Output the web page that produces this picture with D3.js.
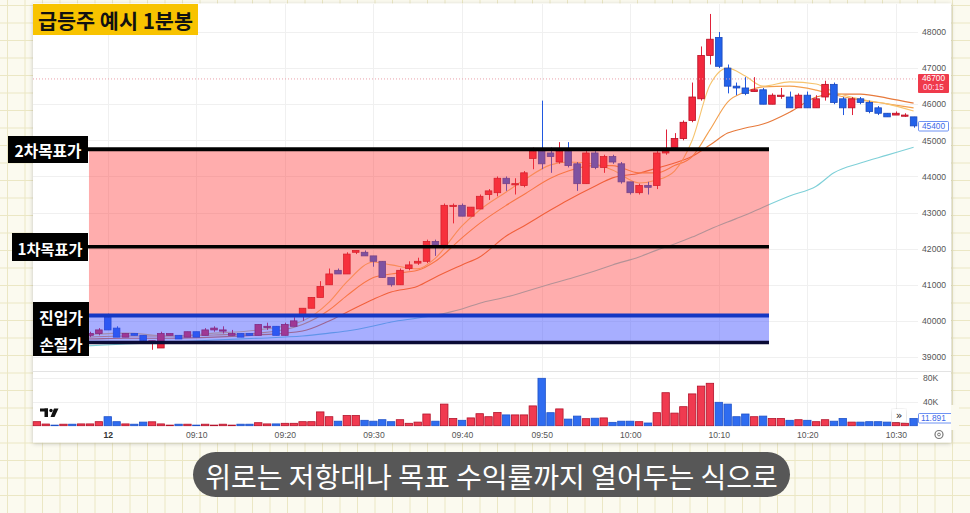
<!DOCTYPE html>
<head>
  <meta charset="utf-8">
  <script src="https://cdn.jsdelivr.net/npm/d3@7/dist/d3.min.js"></script>
  <style>
    body { margin:0; background:#fbfaef; font-family:"Noto Sans CJK KR","Noto Sans",sans-serif; }
    svg { display:block; }
    .ax text { font-family:"Liberation Sans",Arial,sans-serif; font-size:8.6px; fill:#555; }
  </style>
</head>
<body>
<script>
// 1분봉 OHLC + 거래량(K)
var opens  = [39500,39550,39600,39550,39600,39550,39600,39650,40100,39800,
              39550,39650,39600,39400,39250,39600,39600,39550,39700,39600,
              39750,39750,39600,39650,39650,39600,39850,39850,39600,39850,
              40150,40350,40650,41000,41400,41300,41900,41900,41800,41650,
              41200,41000,41450,41600,41650,42200,42100,43200,43200,42900,
              43100,43500,43550,43950,43800,43750,44500,44700,44650,44400,
              44700,44350,43800,44650,44250,44550,44350,43850,43550,43750,
              43750,44650,44800,45050,45550,46150,47350,47850,47000,46500,
              46450,46350,46400,46000,46250,46200,45900,46250,45900,46200,
              46550,46150,45900,46150,46050,45900,45750,45700,45700,45650];
var highs  = [39600,39600,39650,39650,39600,39650,39700,39800,40200,39850,
              39650,39650,39600,39450,39700,39650,39600,39700,39700,39800,
              39850,39850,39750,39650,39650,39900,39950,39850,39950,40100,
              40350,40650,41100,41450,41450,41900,41950,41950,41800,41650,
              41200,41450,41650,41750,42250,42250,43250,43250,43250,43150,
              43500,43650,44000,44000,43950,44150,44800,46100,44800,44950,
              44950,44400,44700,44700,44600,44600,44400,43850,43800,43850,
              44700,45300,45200,45550,46600,47600,48500,48000,47100,46600,
              46750,46750,46450,46300,46450,46350,46300,46350,46250,46650,
              46600,46200,46200,46200,46100,45950,45750,45800,45750,45650];
var lows   = [39450,39500,39550,39550,39500,39550,39550,39600,39750,39550,
              39550,39600,39450,39200,39250,39600,39500,39550,39550,39600,
              39700,39650,39600,39550,39600,39600,39750,39600,39600,39850,
              40000,40350,40650,41000,41300,41300,41850,41800,41500,41200,
              40950,41000,41400,41550,41600,41800,42100,42700,42900,42900,
              43100,43350,43450,43600,43500,43700,44200,44200,44100,44350,
              44250,43600,43800,44200,44100,44350,43800,43500,43500,43500,
              43650,44600,44750,45000,45500,46100,47100,47000,46300,46250,
              46250,46350,46000,46000,46150,45900,45900,45900,45900,46100,
              46000,45700,45700,46000,45750,45700,45650,45700,45650,45350];
var closes = [39550,39600,39550,39600,39550,39600,39650,39750,39750,39550,
              39650,39600,39450,39450,39650,39650,39500,39700,39550,39750,
              39800,39750,39650,39550,39600,39900,39850,39600,39900,40000,
              40350,40650,40950,41300,41300,41850,41950,41800,41650,41200,
              41000,41400,41550,41650,42200,42100,43200,43200,42900,43150,
              43450,43600,43950,43800,43800,44100,44700,44350,44550,44700,
              44300,43800,44650,44250,44550,44400,43850,43550,43750,43700,
              44650,44700,45050,45500,46200,47350,47800,47050,46500,46450,
              46300,46400,46000,46250,46250,45900,46250,45900,46150,46550,
              46050,45900,46150,46050,45800,45750,45650,45750,45700,45400];
var volumes = [6.7,2.8,1.0,2.5,2.5,3.0,3.0,6.7,15,6.7,
               3.0,2.5,6.0,6.5,3.0,1.0,2.5,2.5,1.0,2.5,
               1.0,2.5,1.0,2.5,2.5,5.0,3.0,3.0,4.0,4.0,
               6.7,6.7,23,15,7.5,17,17,9,7.5,10,
               6.7,10,4,6,19.5,7.5,36,12,9,13,
               20,15,22,18,18,18,33,79,21.7,28,
               11,16,11.7,12.5,13,5.6,7.5,7.5,6.7,4.5,
               21.7,55,21,31.7,53,66,70.7,39,36,15,
               19.5,15,16,12,12,9,10,9,6.7,10,
               7.5,12,6,6,6.7,6.7,6,5,4,11.891];

// 이동평균선
var maIdx = [0,5,10,15,20,25,30,33,35,38,40,43,45,48,50,53,55,58,60,63,65,68,70,72,74,76,78,80,82,85,88,90,93,96,99];
var ma5  = [39550,39610,39660,39580,39660,39750,40000,40520,41080,41630,41550,41440,41740,42630,43070,43570,43900,44320,44400,44340,44180,43820,43900,44150,45000,46530,47000,46780,46500,46620,46560,46340,46140,46010,45810];
var ma10 = [39520,39550,39580,39580,39610,39660,39900,40300,40700,41200,41300,41400,41650,42300,42700,43200,43500,43950,44150,44300,44300,44100,44100,44300,44550,45290,46060,46340,46480,46500,46390,46260,46120,46010,45900];
var ma20 = [39500,39500,39520,39520,39550,39610,39720,40000,40240,40600,40800,40960,41210,41550,41770,42350,42630,43070,43350,43730,43960,44090,44230,44370,44560,44870,45200,45340,45450,45780,46200,46280,46280,46170,46030];
var ma60 = [39220,39300,39360,39410,39470,39520,39580,39660,39720,39860,39970,40080,40160,40330,40490,40660,40800,41020,41160,41380,41550,41770,41960,42130,42320,42540,42740,42930,43150,43460,43730,44100,44370,44590,44810];

var tickIdx = [8,18,28,38,48,57,67,77,87,97];
var tickLabels = ["12","09:10","09:20","09:30","09:40","09:50","10:00","10:10","10:20","10:30"];
var priceTicks = [39000,40000,41000,42000,43000,44000,45000,46000,47000,48000];
var volTicks = [40,80];

var levels = [44750,42050,40150,39400];
var levelNames = ["2차목표가","1차목표가","진입가","손절가"];
var lastPrice = 45400, markPrice = 46700;

var width = 970, height = 513;
var svg = d3.select("body").append("svg").attr("width", width).attr("height", height);
var defs = svg.append("defs");
var f = defs.append("filter").attr("id","sh").attr("x","-5%").attr("y","-5%").attr("width","110%").attr("height","110%");
f.append("feDropShadow").attr("dx",0).attr("dy",1).attr("stdDeviation",2).attr("flood-color","#000").attr("flood-opacity",0.22);
defs.append("clipPath").attr("id","cp").append("rect").attr("x",33).attr("y",4).attr("width",885).attr("height",367);

// 모눈 배경
var bg = svg.append("g").attr("stroke","#ebe7c4").attr("stroke-width",1);
d3.range(7.5, width, 17.5).forEach(function(v){ bg.append("line").attr("x1",v).attr("x2",v).attr("y1",0).attr("y2",height); });
d3.range(5.5, height, 17.5).forEach(function(v){ bg.append("line").attr("y1",v).attr("y2",v).attr("x1",0).attr("x2",width); });

svg.append("rect").attr("x",33).attr("y",3.5).attr("width",918).attr("height",439)
  .attr("fill","#fff").attr("filter","url(#sh)");

var x = d3.scaleLinear().domain([0, 99]).range([36.9, 913.6]);
var y = d3.scaleLinear().domain([39000, 48000]).range([357, 32]);
var yv = d3.scaleLinear().domain([0, 80]).range([425.7, 377.7]);

// 그리드
var grid = svg.append("g").attr("stroke","#f0f0f0").attr("stroke-width",1);
priceTicks.forEach(function(p){ grid.append("line").attr("x1",33).attr("x2",918).attr("y1",Math.round(y(p))+0.5).attr("y2",Math.round(y(p))+0.5); });
tickIdx.forEach(function(i){ grid.append("line").attr("x1",Math.round(x(i))+0.5).attr("x2",Math.round(x(i))+0.5).attr("y1",4).attr("y2",426); });
volTicks.forEach(function(v){ grid.append("line").attr("x1",33).attr("x2",918).attr("y1",Math.round(yv(v))+0.5).attr("y2",Math.round(yv(v))+0.5); });
svg.append("line").attr("x1",33).attr("x2",951).attr("y1",371.5).attr("y2",371.5).attr("stroke","#e3e3e3");

var data = opens.map(function(o, i){
  return {i:i, o:o, h:highs[i], l:lows[i], c:closes[i], v:volumes[i], up: closes[i] >= o};
});

// 거래량
svg.append("g").selectAll("rect").data(data).enter().append("rect")
  .attr("x", function(d){ return x(d.i) - 3.7; })
  .attr("width", 7.4)
  .attr("y", function(d){ return yv(d.v); })
  .attr("height", function(d){ return yv(0) - yv(d.v); })
  .attr("fill", function(d){ return d.up ? "#f03a50" : "#2f6cf0"; })
  .attr("stroke", function(d){ return d.up ? "#b3132b" : "#1f52c8"; })
  .attr("stroke-width", 0.8);

var plot = svg.append("g").attr("clip-path","url(#cp)");

// 이동평균
var line = d3.line().x(function(d){ return x(d[0]); }).y(function(d){ return y(d[1]); }).curve(d3.curveMonotoneX);
[[ma60,"#7fd0d8"],[ma20,"#e77a3c"],[ma10,"#f3a04f"],[ma5,"#f6c46e"]].forEach(function(m){
  plot.append("path").datum(maIdx.map(function(i, k){ return [i, m[0][k]]; }))
    .attr("d", line).attr("fill","none").attr("stroke", m[1]).attr("stroke-width",1.1);
});

// 캔들
var cg = plot.selectAll("g.c").data(data).enter().append("g");
cg.append("line")
  .attr("x1", function(d){ return Math.round(x(d.i)) + 0.5; })
  .attr("x2", function(d){ return Math.round(x(d.i)) + 0.5; })
  .attr("y1", function(d){ return y(d.h); })
  .attr("y2", function(d){ return y(d.l); })
  .attr("stroke", function(d){ return d.up ? "#e0223a" : "#2058e0"; });
cg.append("rect")
  .attr("x", function(d){ return x(d.i) - 3.3; })
  .attr("width", 6.6)
  .attr("y", function(d){ return y(Math.max(d.o, d.c)); })
  .attr("height", function(d){ return Math.max(1.2, Math.abs(y(d.o) - y(d.c))); })
  .attr("fill", function(d){ return d.up ? "#f2283d" : "#2262ea"; })
  .attr("stroke", function(d){ return d.up ? "#b80f24" : "#1a48bb"; })
  .attr("stroke-width", 0.8);

plot.append("line").attr("x1",33).attr("x2",918).attr("y1",y(markPrice)).attr("y2",y(markPrice))
  .attr("stroke","#eaa0aa").attr("stroke-width",1).attr("stroke-dasharray","1,2");

// 목표/진입/손절 구간
var zx0 = x(5.88), zx1 = x(82.67);
svg.append("rect").attr("x",zx0).attr("width",zx1-zx0).attr("y",y(levels[0])).attr("height",y(levels[2])-y(levels[0]))
  .attr("fill","rgba(255,60,60,0.42)");
svg.append("rect").attr("x",zx0).attr("width",zx1-zx0).attr("y",y(levels[2])).attr("height",y(levels[3])-y(levels[2]))
  .attr("fill","rgba(60,75,255,0.45)");

var lineStyle = [["#000",4,8],["#000",3.5,12],["#1438c4",4,33],["#0b0b36",3.5,33]];
levels.forEach(function(p, k){
  svg.append("line").attr("x1",lineStyle[k][2]).attr("x2",zx1).attr("y1",y(p)).attr("y2",y(p))
    .attr("stroke",lineStyle[k][0]).attr("stroke-width",lineStyle[k][1]);
});

function fit(t, w){
  var len = t.node().getComputedTextLength();
  var fs = parseFloat(t.attr("font-size"));
  t.attr("font-size", (fs * w / len).toFixed(2));
}

var boxes = [[8,136,80,27,67],[12,233,76,28,65],[33,302,56,28,44],[33,330,56,26,43]];
levelNames.forEach(function(n, k){
  var b = boxes[k];
  svg.append("rect").attr("x",b[0]).attr("y",b[1]).attr("width",b[2]).attr("height",b[3]).attr("fill","#000");
  var t = svg.append("text").attr("x",b[0]+b[2]/2).attr("y",b[1]+b[3]/2+1).attr("text-anchor","middle")
    .attr("dominant-baseline","central").attr("font-size",16).attr("font-weight",700).attr("fill","#fff").text(n);
  fit(t, b[4]);
});

// 축
var ya = svg.append("g").attr("class","ax").attr("transform","translate(949,0)")
  .call(d3.axisLeft(y).tickValues(priceTicks).tickSize(0).tickPadding(3).tickFormat(d3.format("d")));
ya.select(".domain").remove();
var va = svg.append("g").attr("class","ax").attr("transform","translate(920,0)")
  .call(d3.axisRight(yv).tickValues(volTicks).tickSize(0).tickPadding(3).tickFormat(function(d){ return d + "K"; }));
va.select(".domain").remove();
var xa = svg.append("g").attr("class","ax").attr("transform","translate(0,429)")
  .call(d3.axisBottom(x).tickValues(tickIdx).tickSize(0).tickPadding(3).tickFormat(function(d, k){ return tickLabels[k]; }));
xa.select(".domain").remove();
xa.selectAll("text").filter(function(d, k){ return k === 0; }).attr("font-weight",700).style("fill","#333");

// 가격 라벨
svg.append("rect").attr("x",918).attr("y",74).attr("width",31).attr("height",19).attr("fill","#ef3a4b").attr("rx",1);
svg.append("text").attr("class","ax").attr("x",933.5).attr("y",81).attr("text-anchor","middle").attr("font-size",8.3)
  .attr("font-family","Liberation Sans,Arial").attr("fill","#fff").text(markPrice);
svg.append("text").attr("x",933.5).attr("y",90).attr("text-anchor","middle").attr("font-size",8.3)
  .attr("font-family","Liberation Sans,Arial").attr("fill","#fde").text("00:15");
svg.append("rect").attr("x",918.5).attr("y",121.5).attr("width",30).attr("height",9.5).attr("fill","#fff").attr("stroke","#4a76f0").attr("stroke-width",0.8).attr("rx",1);
svg.append("text").attr("x",933.5).attr("y",129.3).attr("text-anchor","middle").attr("font-size",8.3)
  .attr("font-family","Liberation Sans,Arial").attr("fill","#3c68e8").text(lastPrice);
svg.append("rect").attr("x",918.5).attr("y",413.5).attr("width",34).attr("height",9.5).attr("fill","#fff").attr("stroke","#4a76f0").attr("stroke-width",0.8).attr("rx",1);
svg.append("text").attr("x",921).attr("y",421.3).attr("font-size",8.3)
  .attr("font-family","Liberation Sans,Arial").attr("fill","#3c68e8").text(volumes[99].toFixed(3));
svg.append("rect").attr("x",951).attr("y",405).attr("width",8).attr("height",25).attr("fill","#fbfaef");

// 아이콘
svg.append("rect").attr("x",892).attr("y",409).attr("width",14).attr("height",13).attr("rx",2).attr("fill","#fff").attr("filter","url(#sh)");
svg.append("text").attr("x",899).attr("y",419).attr("text-anchor","middle").attr("font-size",11).attr("fill","#222")
  .attr("font-family","DejaVu Sans").text("»");
svg.append("circle").attr("cx",939).attr("cy",434.5).attr("r",4).attr("fill","none").attr("stroke","#777").attr("stroke-width",1.2);
svg.append("circle").attr("cx",939).attr("cy",434.5).attr("r",1.4).attr("fill","none").attr("stroke","#777").attr("stroke-width",1);
var tv = svg.append("g").attr("fill","#111");
tv.append("rect").attr("x",40).attr("y",408.5).attr("width",8).attr("height",3);
tv.append("rect").attr("x",44.5).attr("y",408.5).attr("width",3.5).attr("height",8.5);
tv.append("circle").attr("cx",51).attr("cy",410.5).attr("r",1.7);
tv.append("path").attr("d","M54,408.5 L58.5,408.5 L54.5,417 L50.5,417 Z");

// 제목
svg.append("rect").attr("x",33).attr("y",4).attr("width",165).attr("height",31).attr("fill","#f8c300");
var tt = svg.append("text").attr("x",115.5).attr("y",20).attr("text-anchor","middle").attr("dominant-baseline","central")
  .attr("font-size",21).attr("font-weight",700).attr("fill","#111").text("급등주 예시 1분봉");
fit(tt, 155);

// 자막
svg.append("rect").attr("x",193).attr("y",452).attr("width",597).attr("height",45).attr("rx",22.5).attr("fill","#575757");
var st = svg.append("text").attr("x",491.5).attr("y",475).attr("text-anchor","middle").attr("dominant-baseline","central")
  .attr("font-size",26).attr("fill","#fff").text("위로는 저항대나 목표 수익률까지 열어두는 식으로");
fit(st, 573);
</script>
</body>
